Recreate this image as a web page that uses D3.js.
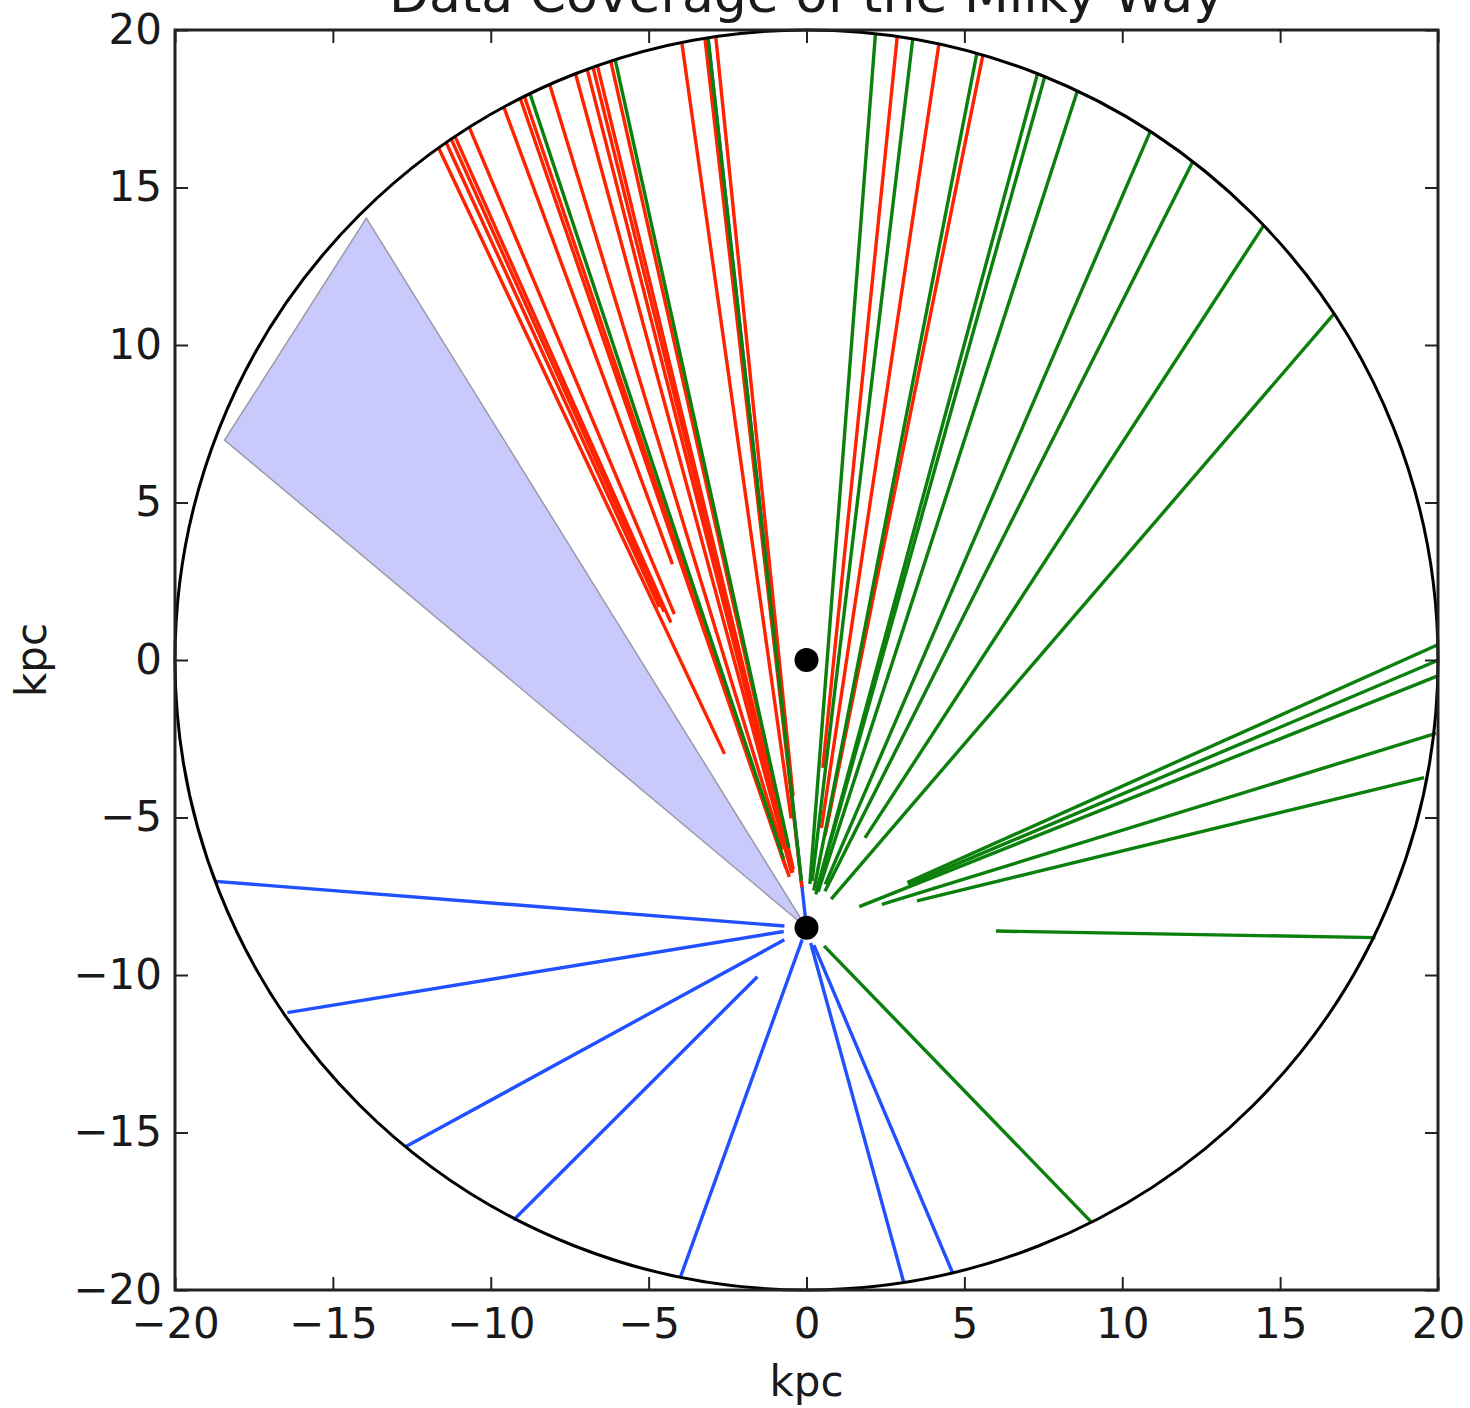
<!DOCTYPE html>
<html>
<head>
<meta charset="utf-8">
<script src="https://cdn.jsdelivr.net/npm/d3@7"></script>
<style>
    body { margin: 0; background: #fff; }
    svg text { font-family: 'DejaVu Sans', sans-serif; fill: #1a1a1a; }
</style>
</head>
<body>
<svg id="chart"></svg>
<script>
const width = 1470;
const height = 1408;
const lineWidth = 3.4;

// sun sits 8.5 kpc below the galactic centre
const sunPosition = [0, -8.5];
const markedPoints = [[0, 0], [0, -8.5]];
const mapRadius = 20;
const tickValues = [-20, -15, -10, -5, 0, 5, 10, 15, 20];

// sightlines: longitude in degrees (0 = towards the centre, + to the right),
// near and far distance from the sun in kpc
const redLongitudes = [-25.2, -24.6, -24.2, -23.9, -22.8, -20.2, -19.0, -18.7, -16.9, -15.1,
    -14.3, -13.9, -13.6, -12.7, -8.0, -6.5, -5.8, 5.8, 8.5, 11.4];
const redNear = [6.1, 11.2, 11.0, 10.6, 10.8, 12.3, 2.0, 1.7, 2.6, 1.8,
    2.0, 1.8, 2.4, 1.9, 3.5, 1.3, 4.2, 5.1, 3.2, 3.0];
const redFar = [27.36, 27.41, 27.45, 27.47, 27.56, 27.76, 27.85, 27.86, 27.98, 28.08,
    28.13, 28.15, 28.16, 28.20, 28.38, 28.42, 28.44, 28.44, 28.37, 28.26];

const greenLongitudes = [-18.3, -12.4, -6.3, 4.4, 6.8, 11.0, 15.1, 15.6, 17.9, 23.3,
    26.7, 33.0, 40.6, 65.8, 67.0, 68.2, 72.8, 76.3, 91.0, 136.0];
const greenNear = [2.3, 2.6, 1.5, 1.4, 1.5, 1.2, 1.3, 1.1, 1.2, 1.5,
    1.3, 3.4, 1.2, 3.5, 3.5, 1.8, 2.5, 3.6, 6.0, 0.8];
const greenFar = [27.89, 28.22, 28.43, 28.46, 28.41, 28.28, 28.08, 28.06, 27.92, 27.52,
    27.23, 26.58, 25.68, 21.94, 21.75, 21.49, 20.87, 20.13, 18.02, 13.0];

const blueLongitudes = [-6.3, -85.5, -99.3, -118.7, -135.0, -160.2, 164.7, 157.1];
const blueNear = [0, 0.7, 0.73, 0.8, 2.2, 0.4, 0.5, 0.6];
const blueFar = [28.43, 18.78, 16.66, 14.48, 13.12, 11.81, 11.65, 11.89];

// shaded region, kpc
const wedgeX = [0, -18.43, -13.94];
const wedgeY = [-8.5, 6.98, 14.03];

const toSegments = (longitudes, near, far) => longitudes.map((l, i) => {
    const rad = l * Math.PI / 180;
    return {
        x1: sunPosition[0] + near[i] * Math.sin(rad),
        y1: sunPosition[1] + near[i] * Math.cos(rad),
        x2: sunPosition[0] + far[i] * Math.sin(rad),
        y2: sunPosition[1] + far[i] * Math.cos(rad)
    };
});

const svg = d3.select('#chart')
    .attr('width', width)
    .attr('height', height);

const xScale = d3.scaleLinear()
    .domain([-20, 20])
    .range([175, 1438]);

const yScale = d3.scaleLinear()
    .domain([-20, 20])
    .range([1290, 30]);

const drawSightlines = (segments, color) => {
    svg.append('g')
        .selectAll('line')
        .data(segments)
        .enter()
        .append('line')
        .attr('x1', d => xScale(d.x1))
        .attr('y1', d => yScale(d.y1))
        .attr('x2', d => xScale(d.x2))
        .attr('y2', d => yScale(d.y2))
        .attr('stroke', color)
        .attr('stroke-width', lineWidth);
};

svg.append('polygon')
    .attr('points', wedgeX.map((d, i) => `${xScale(d)},${yScale(wedgeY[i])}`).join(' '))
    .attr('fill', '#c9c9fb')
    .attr('stroke', '#9a9aa8')
    .attr('stroke-width', 1.5);

drawSightlines(toSegments(blueLongitudes, blueNear, blueFar), '#2050ff');
drawSightlines(toSegments(redLongitudes, redNear, redFar), '#ff2200');
drawSightlines(toSegments(greenLongitudes, greenNear, greenFar), '#0c800c');

svg.append('ellipse')
    .attr('cx', xScale(0))
    .attr('cy', yScale(0))
    .attr('rx', xScale(mapRadius) - xScale(0))
    .attr('ry', yScale(0) - yScale(mapRadius))
    .attr('fill', 'none')
    .attr('stroke', '#000')
    .attr('stroke-width', 3);

svg.selectAll('circle.marker')
    .data(markedPoints)
    .enter()
    .append('circle')
    .attr('class', 'marker')
    .attr('cx', d => xScale(d[0]))
    .attr('cy', d => yScale(d[1]))
    .attr('r', 12)
    .attr('fill', '#000');

// axes, ticks pointing inwards on all four sides
const styleAxis = g => {
    g.select('.domain').remove();
    g.selectAll('.tick line')
        .attr('stroke', '#222')
        .attr('stroke-width', 2);
    g.selectAll('.tick text')
        .attr('fill', '#1a1a1a')
        .style('font-size', '42px');
};

svg.append('g')
    .attr('transform', `translate(0, ${yScale(-20)})`)
    .call(d3.axisBottom(xScale).tickValues(tickValues).tickSize(-13).tickPadding(18))
    .call(styleAxis);

svg.append('g')
    .attr('transform', `translate(${xScale(-20)}, 0)`)
    .call(d3.axisLeft(yScale).tickValues(tickValues).tickSize(-13).tickPadding(13))
    .call(styleAxis);

svg.append('g')
    .attr('transform', `translate(0, ${yScale(20)})`)
    .call(d3.axisTop(xScale).tickValues(tickValues).tickSize(-13).tickFormat(''))
    .call(styleAxis);

svg.append('g')
    .attr('transform', `translate(${xScale(20)}, 0)`)
    .call(d3.axisRight(yScale).tickValues(tickValues).tickSize(-13).tickFormat(''))
    .call(styleAxis);

svg.append('rect')
    .attr('x', xScale(-20))
    .attr('y', yScale(20))
    .attr('width', xScale(20) - xScale(-20))
    .attr('height', yScale(-20) - yScale(20))
    .attr('fill', 'none')
    .attr('stroke', '#222')
    .attr('stroke-width', 3);

svg.append('text')
    .attr('x', xScale(0))
    .attr('y', 12)
    .attr('text-anchor', 'middle')
    .style('font-size', '52px')
    .text('Data Coverage of the Milky Way');

svg.append('text')
    .attr('x', xScale(0))
    .attr('y', 1396)
    .attr('text-anchor', 'middle')
    .style('font-size', '42px')
    .text('kpc');

svg.append('text')
    .attr('transform', `translate(46, ${yScale(0)}) rotate(-90)`)
    .attr('text-anchor', 'middle')
    .style('font-size', '42px')
    .text('kpc');
</script>
</body>
</html>
